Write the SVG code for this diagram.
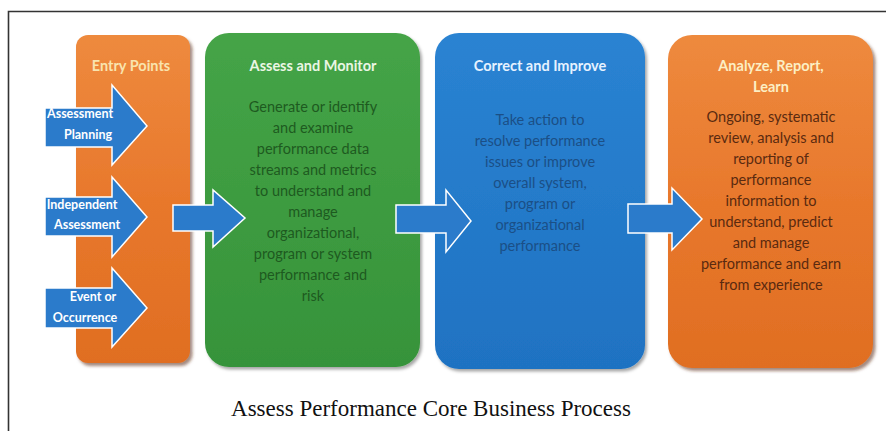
<svg xmlns="http://www.w3.org/2000/svg" width="886" height="431" viewBox="0 0 886 431">
<defs>
<linearGradient id="gOrange" x1="0" y1="0" x2="0" y2="1">
<stop offset="0" stop-color="#EE8A3E"/><stop offset="0.5" stop-color="#E8782C"/><stop offset="1" stop-color="#E06E22"/>
</linearGradient>
<linearGradient id="gGreen" x1="0" y1="0" x2="0" y2="1">
<stop offset="0" stop-color="#45A447"/><stop offset="1" stop-color="#36933A"/>
</linearGradient>
<linearGradient id="gBlue" x1="0" y1="0" x2="0" y2="1">
<stop offset="0" stop-color="#2A83D2"/><stop offset="1" stop-color="#1F72C2"/>
</linearGradient>
<filter id="sh" x="-10%" y="-10%" width="125%" height="125%">
<feDropShadow dx="2.5" dy="3" stdDeviation="1.5" flood-color="#5a2a10" flood-opacity="0.55"/>
</filter>
<filter id="sh2" x="-10%" y="-10%" width="125%" height="125%">
<feDropShadow dx="2" dy="2.5" stdDeviation="1.5" flood-color="#000" flood-opacity="0.35"/>
</filter>
</defs>
<style>
.t{font-family:Lato,"Open Sans","Liberation Sans",sans-serif;font-weight:bold;font-size:14.5px;text-anchor:middle}
.b{font-family:Lato,"Open Sans","Liberation Sans",sans-serif;font-size:14.5px;text-anchor:middle}
.a{font-family:Lato,"Open Sans","Liberation Sans",sans-serif;font-weight:bold;font-size:12.5px;fill:#fff;text-anchor:middle}
.arr{fill:#2B7BCB;stroke:#fff;stroke-width:1.5;stroke-linejoin:miter}
</style>
<rect width="886" height="431" fill="#fff"/>
<path d="M8.5 431 V11.5 H886" fill="none" stroke="#333" stroke-width="1.6"/>

<g id="entry-points">
<rect x="76" y="35" width="114" height="328" rx="12" fill="url(#gOrange)" filter="url(#sh)"/>
<text class="t" x="131" y="71" fill="#F9E4AE">Entry Points</text>
</g>
<g id="assessment-planning">
<path class="arr" d="M45 108 H112 V85 L147 126 L112 165 V147 H45 Z"/>
<text class="a" x="80" y="118">Assessment</text>
<text class="a" x="88" y="139">Planning</text>
</g>
<g id="independent-assessment">
<path class="arr" d="M45 197 H112 V177 L147 217 L112 257 V236 H45 Z"/>
<text class="a" x="82" y="209">Independent</text>
<text class="a" x="87" y="229">Assessment</text>
</g>
<g id="event-or-occurrence">
<path class="arr" d="M45 288 H112 V268 L147 308 L112 347 V328 H45 Z"/>
<text class="a" x="93" y="301">Event or</text>
<text class="a" x="85" y="322">Occurrence</text>
</g>

<g id="assess-and-monitor">
<rect x="205" y="33" width="215" height="334" rx="24" fill="url(#gGreen)" filter="url(#sh2)"/>
<text class="t" x="313" y="71" fill="#EAF6E4">Assess and Monitor</text>
<g class="b" fill="#1E5A20">
<text x="313" y="112">Generate or identify</text>
<text x="313" y="133">and  examine</text>
<text x="313" y="154">performance data</text>
<text x="313" y="175">streams and metrics</text>
<text x="313" y="196">to understand and</text>
<text x="313" y="217">manage</text>
<text x="313" y="238">organizational,</text>
<text x="313" y="259">program or system</text>
<text x="313" y="280">performance and</text>
<text x="313" y="301">risk</text>
</g>
</g>

<g id="correct-and-improve">
<rect x="435" y="33" width="210" height="336" rx="24" fill="url(#gBlue)" filter="url(#sh2)"/>
<text class="t" x="540" y="71" fill="#E6F2FF">Correct and Improve</text>
<g class="b" fill="#1B4F86">
<text x="540" y="125">Take action to</text>
<text x="540" y="146">resolve performance</text>
<text x="540" y="167">issues or improve</text>
<text x="540" y="188">overall system,</text>
<text x="540" y="209">program or</text>
<text x="540" y="230">organizational</text>
<text x="540" y="251">performance</text>
</g>
</g>

<g id="analyze-report-learn">
<rect x="668" y="35" width="205" height="333" rx="24" fill="url(#gOrange)" filter="url(#sh)"/>
<text class="t" x="771" y="71" fill="#FCEFC4">Analyze, Report,</text>
<text class="t" x="771" y="92" fill="#FCEFC4">Learn</text>
<g class="b" fill="#5A2A10">
<text x="771" y="122">Ongoing, systematic</text>
<text x="771" y="143">review, analysis and</text>
<text x="771" y="164">reporting of</text>
<text x="771" y="185">performance</text>
<text x="771" y="206">information to</text>
<text x="771" y="227">understand, predict</text>
<text x="771" y="248">and manage</text>
<text x="771" y="269">performance and earn</text>
<text x="771" y="290">from experience</text>
</g>
</g>

<g id="connectors">
<path class="arr" d="M173 205 H213 V190 L245 218 L213 247 V231 H173 Z"/>
<path class="arr" d="M396 205 H446 V190 L471 221 L446 252 V233 H396 Z"/>
<path class="arr" d="M628 204 H672 V188 L702 219 L672 250 V233 H628 Z"/>
</g>

<text x="431" y="416" font-family="'Liberation Serif','Times New Roman',serif" font-size="23" text-anchor="middle" fill="#111">Assess Performance Core Business Process</text>
</svg>
